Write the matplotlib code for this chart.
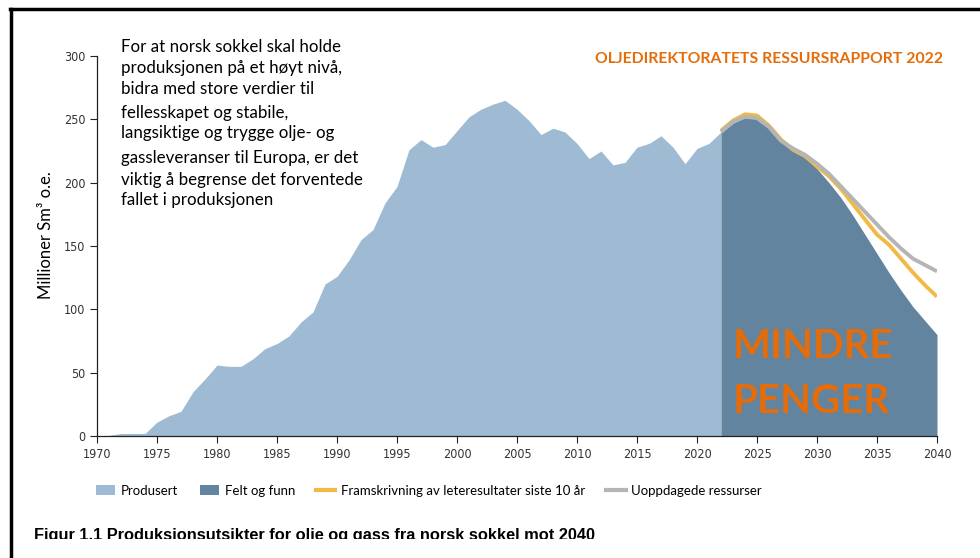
import numpy as np
import matplotlib
matplotlib.use('Agg')
import matplotlib.pyplot as plt
from matplotlib.patches import Patch
from matplotlib.lines import Line2D
from matplotlib.transforms import Bbox, TransformedBbox

# Produsert (historisk produksjon), millioner Sm3 o.e.
aar_prod = list(range(1970, 2023))
produsert = [0, 0.5, 2, 2, 2, 11, 16, 19.5, 35, 45,
             56, 55, 55, 61, 69, 73, 79, 90, 98, 120,
             126, 139, 155, 163, 184, 197, 226, 234, 228, 230,
             241, 252, 258, 262, 265, 258, 249, 238, 243, 240,
             231, 219, 225, 214, 216, 228, 231, 237, 228, 215,
             227, 231, 240]

# Framskrivninger 2022-2040
aar_prog = list(range(2022, 2041))
felt_og_funn = [240, 247, 252, 251, 244, 233, 226, 220, 211, 200,
                188, 174, 159, 144, 129, 115, 102, 91, 80]
framskrivning = [241, 249, 254, 253, 245, 234, 226, 221, 213, 205,
                 195, 183, 171, 159, 151, 140, 129, 119, 110]
uoppdagede = [240, 248, 252, 251, 244, 233, 227, 222, 215, 207,
              197, 187, 177, 167, 157, 148, 140, 135, 130]

x_ticks = list(range(1970, 2041, 5))
y_ticks = [0, 50, 100, 150, 200, 250, 300]

tekst = ["For at norsk sokkel skal holde",
         "produksjonen på et høyt nivå,",
         "bidra med store verdier til",
         "fellesskapet og stabile,",
         "langsiktige og trygge olje- og",
         "gassleveranser til Europa, er det",
         "viktig å begrense det forventede",
         "fallet i produksjonen"]
tekst_y = [47, 68, 89, 113, 133, 158, 180, 200]

lys_bla = '#9fbbd4'
mork_bla = '#62849f'
gul = '#f0bb45'
gra = '#b5b5b5'
oransje = '#e46c0a'

W, H = 980, 558
fig = plt.figure(figsize=(9.8, 5.58), dpi=100)
ax = fig.add_axes([97 / W, 1 - 436 / H, 840 / W, 380 / H])

ax.fill_between(aar_prod, produsert, 0, color=lys_bla, linewidth=0)
ax.fill_between(aar_prog, felt_og_funn, 0, color=mork_bla, linewidth=0)
ax.plot(aar_prog, framskrivning, color=gul, linewidth=2.8, solid_capstyle='butt')
ax.plot(aar_prog, uoppdagede, color=gra, linewidth=2.8, solid_capstyle='butt')

ax.set_xlim(1970, 2040)
ax.set_ylim(0, 300)
ax.set_xticks(x_ticks)
ax.set_yticks(y_ticks)
for s in ['top', 'right']:
    ax.spines[s].set_visible(False)
for s in ['left', 'bottom']:
    ax.spines[s].set_linewidth(0.9)
    ax.spines[s].set_color('#222222')
ax.tick_params(direction='out', length=5, width=0.8, color='#222222',
               labelsize=9, labelcolor='#333333')
for lab in ax.get_xticklabels() + ax.get_yticklabels():
    lab.set_family('DejaVu Sans')
    lab.set_stretch('condensed')

fig.text(46 / W, 1 - 235 / H, 'Millioner Sm³ o.e.', rotation=90, ha='center',
         va='center', fontsize=12, family='Lato')

for linje, yy in zip(tekst, tekst_y):
    fig.text(121 / W, 1 - yy / H, linje, ha='left', va='center',
             fontsize=12.2, family='Lato')

fig.text(943 / W, 1 - 59 / H, 'OLJEDIREKTORATETS RESSURSRAPPORT 2022',
         ha='right', va='center', fontsize=11.3, fontweight='bold',
         color=oransje, family='Lato')

fig.text(733 / W, 1 - 358 / H, 'MINDRE', ha='left', va='baseline',
         fontsize=29, fontweight='bold', color=oransje, family='Lato')
fig.text(733 / W, 1 - 413 / H, 'PENGER', ha='left', va='baseline',
         fontsize=29, fontweight='bold', color=oransje, family='Lato')

handles = [Patch(facecolor=lys_bla, edgecolor='none'),
           Patch(facecolor=mork_bla, edgecolor='none'),
           Line2D([], [], color=gul, linewidth=3),
           Line2D([], [], color=gra, linewidth=3)]
labels = ['Produsert', 'Felt og funn',
          'Framskrivning av leteresultater siste 10 år', 'Uoppdagede ressurser']
fig.legend(handles, labels, loc='center left', bbox_to_anchor=(96 / W, 1 - 491 / H),
           ncol=4, frameon=False, prop={'family': 'Lato', 'size': 9.5},
           handlelength=1.45, handleheight=0.8, handletextpad=0.45,
           columnspacing=1.6, borderaxespad=0, borderpad=0)

cap = fig.text(34 / W, 1 - 540 / H,
               'Figur 1.1 Produksjonsutsikter for olje og gass fra norsk sokkel mot 2040',
               ha='left', va='baseline', fontsize=11.8, fontweight='bold',
               family='Liberation Sans')
cap.set_clip_box(TransformedBbox(Bbox([[0, 1 - 539 / H], [1, 1]]), fig.transFigure))
cap.set_clip_on(True)

# ramme
fig.add_artist(Line2D([11 / W, 11 / W], [0, 1 - 9 / H], color='black',
                      linewidth=2.5, transform=fig.transFigure))
fig.add_artist(Line2D([10 / W, 1], [1 - 9 / H, 1 - 9 / H], color='black',
                      linewidth=2.5, transform=fig.transFigure))

fig.savefig('out.png', dpi=100)
